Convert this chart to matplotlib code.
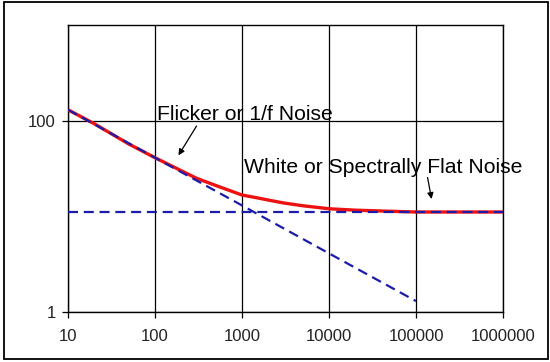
import matplotlib
matplotlib.use("Agg")
import matplotlib.pyplot as plt
from matplotlib.patches import Rectangle
from matplotlib.ticker import FixedLocator, NullLocator, FixedFormatter

plt.rcParams['font.family'] = ['Liberation Sans', 'DejaVu Sans']

# Data
freq_total = [10, 20, 50, 100, 200, 300, 500, 700, 1000, 1500, 2000, 3000, 5000,
              10000, 20000, 50000, 100000, 1000000]
noise_total = [130, 93, 57, 41, 30, 25, 21.0, 18.8, 16.7, 15.6, 14.8, 13.8, 12.9,
               12.0, 11.6, 11.3, 11.1, 11.1]

freq_flicker = [10, 100, 1000, 10000, 100000]
noise_flicker = [130, 41, 13, 4.1, 1.3]

freq_white = [10, 1000000]
noise_white = [11.1, 11.1]

x_ticks = [10, 100, 1000, 10000, 100000, 1000000]
x_labels = ["10", "100", "1000", "10000", "100000", "1000000"]
y_ticks = [1, 100]
y_labels = ["1", "100"]

fig = plt.figure(figsize=(5.5, 3.62), dpi=100)
ax = fig.add_axes([68/550, 1-312/362, (503-68)/550, (312-25)/362])

ax.plot(freq_total, noise_total, color='#ee1111', lw=2.4, solid_capstyle='butt',
        solid_joinstyle='round', zorder=3)
ax.plot(freq_white, noise_white, color='#1c1ca8', lw=1.6, dashes=(4.5, 2.6), zorder=4)
ax.plot(freq_flicker, noise_flicker, color='#1c1ca8', lw=1.6, dashes=(4.5, 2.6), zorder=4)

ax.set_xscale('log')
ax.set_yscale('log')
ax.set_xlim(10, 1000000)
ax.set_ylim(1, 1000)

ax.xaxis.set_major_locator(FixedLocator(x_ticks))
ax.xaxis.set_major_formatter(FixedFormatter(x_labels))
ax.xaxis.set_minor_locator(NullLocator())
ax.yaxis.set_major_locator(FixedLocator(y_ticks))
ax.yaxis.set_major_formatter(FixedFormatter(y_labels))
ax.yaxis.set_minor_locator(NullLocator())

ax.grid(True, which='major', color='black', lw=0.9)
ax.tick_params(direction='out', length=4, width=0.9, color='black',
               labelsize=12, labelcolor='#222222')
ax.tick_params(axis='x', pad=8)
ax.tick_params(axis='y', pad=5)
for s in ax.spines.values():
    s.set_color('black')
    s.set_linewidth(1.0)

ax.text(105, 102, "Flicker or 1/f Noise", fontsize=15.2, va='baseline', ha='left', zorder=5)
ax.annotate("", xy=(179, 41), xytext=(312, 93),
            arrowprops=dict(arrowstyle='-|>', color='black', lw=0.9, mutation_scale=9), zorder=5)
ax.text(1054, 28.6, "White or Spectrally Flat Noise", fontsize=15.2, va='baseline', ha='left', zorder=5)
ax.annotate("", xy=(1.53e5, 14.2), xytext=(1.34e5, 27.2),
            arrowprops=dict(arrowstyle='-|>', color='black', lw=0.9, mutation_scale=9), zorder=5)

fig.patches.append(Rectangle((4/550, 1-359/362), 544/550, 357/362, transform=fig.transFigure,
                             fill=False, edgecolor='black', lw=1.3))

fig.savefig("out.png", dpi=100)
